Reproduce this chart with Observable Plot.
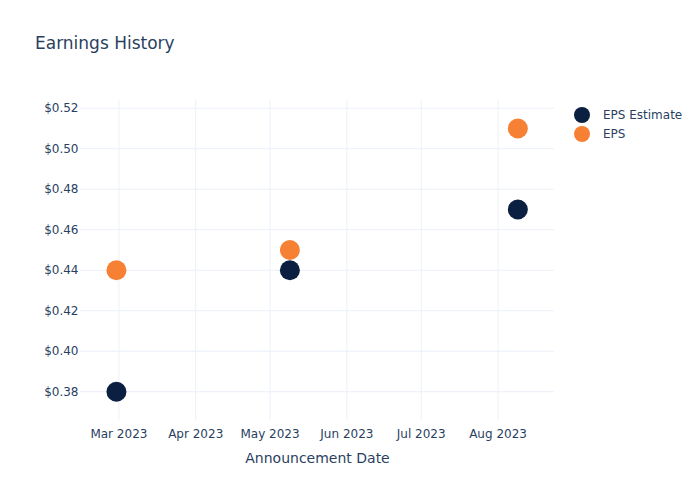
<!DOCTYPE html>
<html>
<head>
<meta charset="utf-8">
<script src="https://cdn.jsdelivr.net/npm/d3@7"></script>
<script src="https://cdn.jsdelivr.net/npm/@observablehq/plot@0.6"></script>
<style>
  body { margin: 0; background: #fff; font-family: "DejaVu Sans", sans-serif; }
  #wrap { position: relative; width: 700px; height: 500px; }
  #title { position: absolute; left: 35px; top: 33px; font-size: 17px; color: #2a3f5f; }
  #legend { position: absolute; left: 574px; top: 105px; font-size: 12px; color: #2a3f5f; }
  .item { display: flex; align-items: center; height: 19px; }
  .sw { width: 16px; height: 16px; border-radius: 50%; margin-right: 13px; }
</style>
</head>
<body>
<div id="wrap">
  <div id="title">Earnings History</div>
  <div id="legend"></div>
</div>
<script>
const dates = ["2023-02-28", "2023-05-09", "2023-08-09"];
const epsEstimate = [0.38, 0.44, 0.47];
const eps = [0.44, 0.45, 0.51];
const seriesNames = ["EPS Estimate", "EPS"];
const seriesColors = ["#0b1f41", "#f68134"];
const yTicks = [0.38, 0.40, 0.42, 0.44, 0.46, 0.48, 0.50, 0.52];
const xTicks = ["2023-03-01", "2023-04-01", "2023-05-01", "2023-06-01", "2023-07-01", "2023-08-01"];

const parse = d3.utcParse("%Y-%m-%d");
const rows = [];
dates.forEach((d, i) => {
  rows.push({date: parse(d), value: epsEstimate[i], series: seriesNames[0]});
  rows.push({date: parse(d), value: eps[i], series: seriesNames[1]});
});

const chart = Plot.plot({
  width: 700,
  height: 500,
  marginLeft: 80,
  marginRight: 146,
  marginTop: 100,
  marginBottom: 80,
  style: {fontFamily: "DejaVu Sans, sans-serif", fontSize: "12px", color: "#2a3f5f", background: "#fff"},
  x: {
    type: "utc",
    domain: [new Date(Date.UTC(2023, 1, 13, 12)), new Date(Date.UTC(2023, 7, 23, 19))],
    ticks: xTicks.map(parse),
    tickFormat: d3.utcFormat("%b %Y"),
    tickSize: 0,
    tickPadding: 9,
    label: null
  },
  y: {
    domain: [0.3658, 0.5238],
    ticks: yTicks,
    tickFormat: d => "$" + d.toFixed(2),
    tickSize: 0,
    tickPadding: 2,
    label: null
  },
  color: {domain: seriesNames, range: seriesColors},
  marks: [
    Plot.gridX(xTicks.map(parse), {stroke: "#ebf0f8", strokeOpacity: 1, strokeWidth: 1}),
    Plot.gridY(yTicks, {stroke: "#ebf0f8", strokeOpacity: 1, strokeWidth: 1}),
    Plot.axisX(xTicks.map(parse), {tickSize: 0, tickPadding: 9, tickFormat: d3.utcFormat("%b %Y"), fill: "#2a3f5f", fontSize: 12, label: null}),
    Plot.axisY(yTicks, {tickSize: 0, tickPadding: 2, tickFormat: d => "$" + d.toFixed(2), fill: "#2a3f5f", fontSize: 12, label: null}),
    Plot.text(["Announcement Date"], {frameAnchor: "bottom", dy: 42, fontSize: 14, fill: "#2a3f5f"}),
    Plot.dot(rows, {x: "date", y: "value", fill: "series", r: 10})
  ]
});
document.getElementById("wrap").prepend(chart);
chart.style.position = "absolute";
chart.style.left = "0";
chart.style.top = "0";

const legend = document.getElementById("legend");
seriesNames.forEach((n, i) => {
  const it = document.createElement("div");
  it.className = "item";
  const sw = document.createElement("div");
  sw.className = "sw";
  sw.style.background = seriesColors[i];
  const t = document.createElement("span");
  t.textContent = n;
  it.append(sw, t);
  legend.append(it);
});
</script>
</body>
</html>
